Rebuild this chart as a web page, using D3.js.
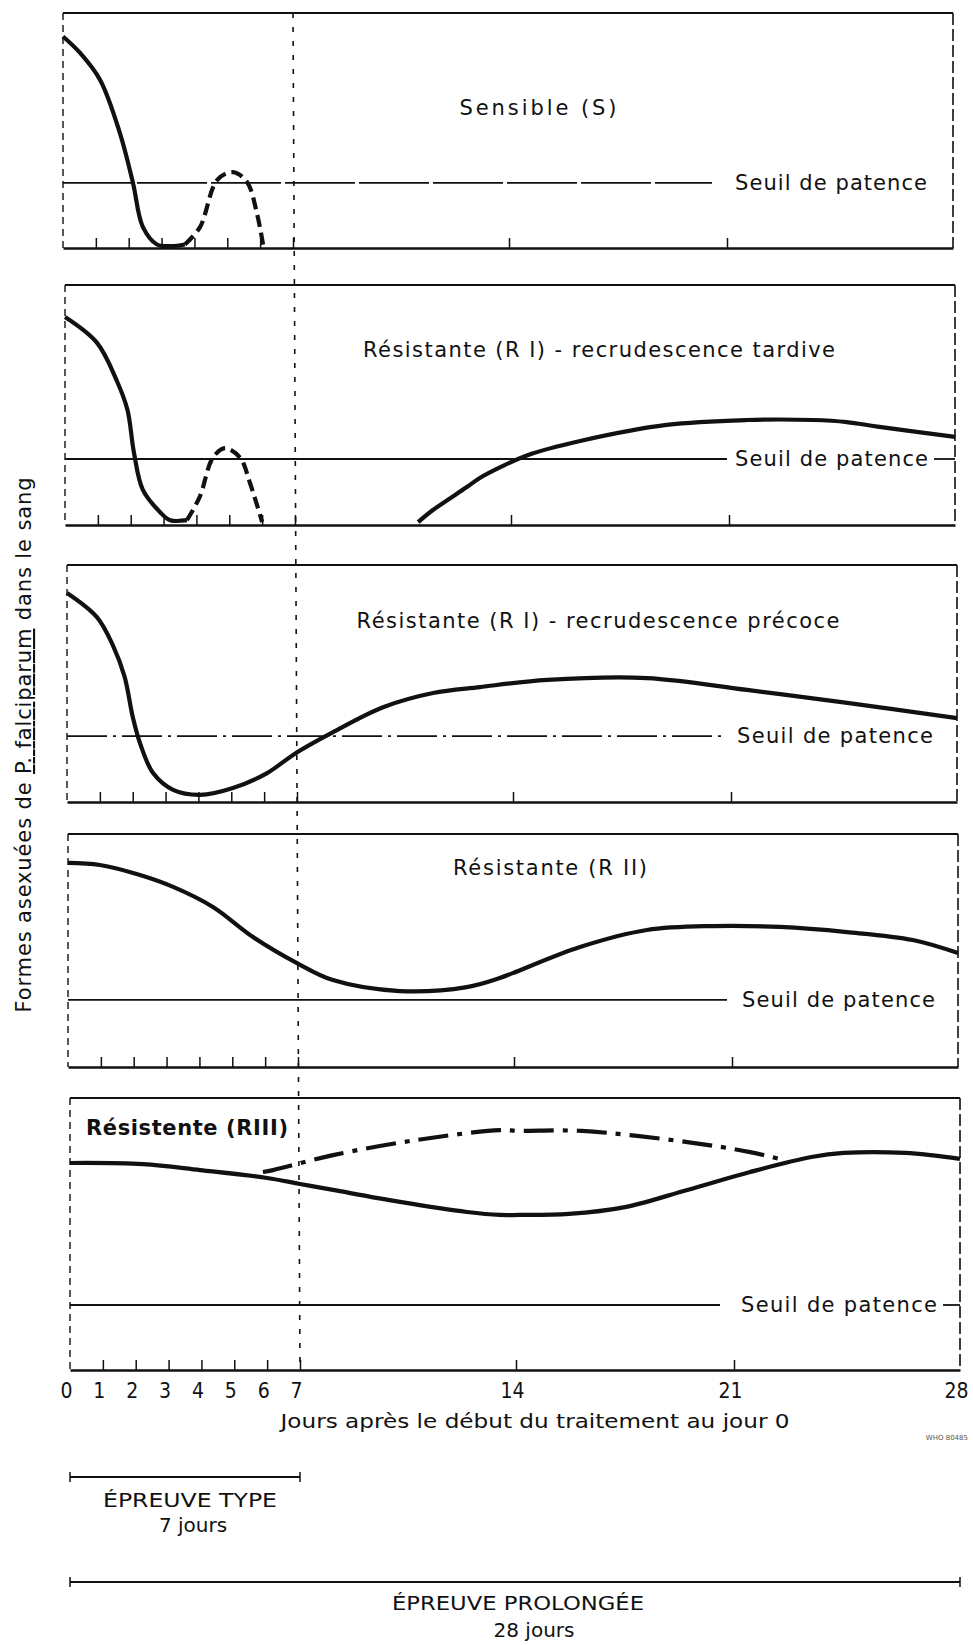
<!DOCTYPE html>
<html>
<head>
<meta charset="utf-8">
<script src="https://cdn.jsdelivr.net/npm/d3@7"></script>
<style>
body { margin: 0; background: #fff; }
text { font-family: "DejaVu Sans", "Liberation Sans", sans-serif; fill: #111; }
</style>
</head>
<body>
<div id="chart"></div>
<script>
// level of parasites, 0 = bottom of a panel, 100 = top (arbitrary units)
var sDays = [0, 0.52, 1.13, 1.73, 2.13, 2.43, 2.86, 3.3, 3.71];
var sVals = [90, 83, 71.5, 49, 27.7, 9, 1.5, 0.8, 1.5];
var sDashDays = [3.71, 4.17, 4.69, 5.17, 5.6, 5.9, 6.09];
var sDashVals = [1.5, 8.9, 28.9, 32.3, 28.1, 14.9, 1.3];

var tardDays = [0, 0.97, 1.58, 1.9, 2.1, 2.37, 2.89, 3.2, 3.71];
var tardVals = [86.7, 76, 60, 48, 30, 14.6, 5.4, 2, 2];
var tardDashDays = [3.71, 4.1, 4.5, 4.87, 5.33, 5.63, 6.0];
var tardDashVals = [2, 11.7, 28, 32, 28, 17.5, 1.2];
var tardLateDays = [10.99, 11.47, 12.57, 12.99, 13.64, 14.51, 16.22, 19.0, 21.55, 23.6, 24.65, 25.6, 28];
var tardLateVals = [1.2, 6.25, 15.8, 19.6, 24, 29, 35, 41.7, 43.75, 43.75, 42.9, 41, 36.7];

var precDays = [0, 0.91, 1.4, 1.75, 2.0, 2.22, 2.62, 3.23, 4.05, 5.05, 6.09, 6.97, 8.17, 9.79, 11.41, 12.93, 15.1, 18.3, 21.5, 24.6, 28];
var precVals = [88.2, 78, 66, 53, 36, 24.9, 12.2, 5.1, 3, 5.9, 12.2, 20.7, 29.5, 40, 46, 48.5, 51.5, 52.3, 47.3, 41.8, 35.4];

var r2Days = [0, 0.97, 2.19, 3.2, 4.41, 5.63, 6.97, 8.13, 10.3, 12.47, 13.54, 13.96, 16.12, 18.27, 20.39, 22.49, 24.56, 26.6, 28];
var r2Vals = [87.6, 86.7, 82.4, 77.3, 68.7, 55.8, 44.6, 37.3, 32.6, 34.3, 38.2, 40.3, 51.5, 58.8, 60.5, 60.1, 57.9, 54.5, 48.9];

var r3Days = [0, 2.22, 3.96, 6.0, 7.0, 8.07, 10.24, 12.41, 13.48, 14.1, 15.7, 17.5, 19.5, 21.5, 23.4, 24.4, 26.3, 28];
var r3Vals = [76.1, 75.7, 73.5, 70.6, 68.4, 66.2, 61.8, 58.1, 57, 57, 57.4, 59.9, 66.2, 72.8, 78.3, 79.8, 79.8, 77.6];
var r3AltDays = [5.87, 6.18, 8.07, 10.8, 13.48, 14.1, 16.1, 19.5, 21.5, 22.6];
var r3AltVals = [72.8, 73.5, 79, 84.6, 88.2, 87.9, 87.9, 83.8, 80.1, 77];

var thresholds = [27.7, 27.5, 27.8, 28.8, 23.9];
var titles = ["Sensible (S)", "Résistante (R I) - recrudescence tardive", "Résistante (R I) - recrudescence précoce", "Résistante (R II)", "Résistente (RIII)"];
var thresholdLabel = "Seuil de patence";
var tickDays = [1, 2, 3, 4, 5, 6, 7, 14, 21];
var dayLabels = [0, 1, 2, 3, 4, 5, 6, 7, 14, 21, 28];

var svg = d3.select("#chart").append("svg")
    .attr("width", 973)
    .attr("height", 1645);

var x = d3.scaleLinear().domain([0, 7, 14, 21, 28]).range([63, 293, 509, 727, 953]);

var layout = [
  {top: 13, bottom: 248, dx: 0, tx: 538, ty: 115, tlen: 157, anchor: "middle", bold: false, thrEnd: 712, thrDash: "70,4", lx: 735, llen: 192, tail: false},
  {top: 285, bottom: 525, dx: 2, tx: 599, ty: 357, tlen: 472, anchor: "middle", bold: false, thrEnd: 727, thrDash: null, lx: 735, llen: 193, tail: true},
  {top: 565, bottom: 802, dx: 4, tx: 598, ty: 628, tlen: 483, anchor: "middle", bold: false, thrEnd: 727, thrDash: "40,6,3,6", lx: 737, llen: 196, tail: false},
  {top: 834, bottom: 1067, dx: 5, tx: 550, ty: 875, tlen: 194, anchor: "middle", bold: false, thrEnd: 727, thrDash: null, lx: 742, llen: 193, tail: false},
  {top: 1098, bottom: 1370, dx: 7, tx: 86, ty: 1135, tlen: 202, anchor: "start", bold: true, thrEnd: 720, thrDash: null, lx: 741, llen: 196, tail: true}
];

var curves = [
  [{d: sDays, v: sVals, dash: null}, {d: sDashDays, v: sDashVals, dash: "12,6"}],
  [{d: tardDays, v: tardVals, dash: null}, {d: tardDashDays, v: tardDashVals, dash: "12,6"}, {d: tardLateDays, v: tardLateVals, dash: null}],
  [{d: precDays, v: precVals, dash: null}],
  [{d: r2Days, v: r2Vals, dash: null}],
  [{d: r3Days, v: r3Vals, dash: null}, {d: r3AltDays, v: r3AltVals, dash: "30,9,5,9"}]
];

layout.forEach(function(p, i) {
  var y = d3.scaleLinear().domain([0, 100]).range([p.bottom, p.top]);
  var g = svg.append("g").attr("transform", `translate(${p.dx},0)`);

  // frame
  g.append("line").attr("x1", x(0)).attr("x2", x(28)).attr("y1", p.top).attr("y2", p.top)
    .attr("stroke", "#111").attr("stroke-width", 2.2);
  g.append("line").attr("x1", x(0)).attr("x2", x(0)).attr("y1", p.top).attr("y2", p.bottom)
    .attr("stroke", "#111").attr("stroke-width", 1.4).attr("stroke-dasharray", "7,5");
  g.append("line").attr("x1", x(28)).attr("x2", x(28)).attr("y1", p.top).attr("y2", p.bottom)
    .attr("stroke", "#111").attr("stroke-width", 1.6).attr("stroke-dasharray", "12,4");

  var ax = g.append("g").attr("transform", `translate(0,${p.bottom})`)
    .call(d3.axisTop(x).tickValues(tickDays).tickSize(10).tickSizeOuter(0).tickFormat(""));
  ax.select(".domain").attr("stroke", "#111").attr("stroke-width", 2.4);
  ax.selectAll(".tick line").attr("stroke", "#111").attr("stroke-width", 1.5);

  // threshold
  g.append("line").attr("x1", x(0)).attr("x2", p.thrEnd - p.dx)
    .attr("y1", y(thresholds[i])).attr("y2", y(thresholds[i]))
    .attr("stroke", "#111").attr("stroke-width", 1.8)
    .attr("stroke-dasharray", p.thrDash);
  if (p.tail) {
    g.append("line").attr("x1", p.lx + p.llen + 6 - p.dx).attr("x2", x(28))
      .attr("y1", y(thresholds[i])).attr("y2", y(thresholds[i]))
      .attr("stroke", "#111").attr("stroke-width", 1.8);
  }

  var line = d3.line()
    .x(function(d) { return x(d[0]); })
    .y(function(d) { return y(d[1]); })
    .curve(d3.curveCatmullRom.alpha(0.5));

  curves[i].forEach(function(c) {
    g.append("path")
      .datum(c.d.map(function(d, k) { return [d, c.v[k]]; }))
      .attr("d", line)
      .attr("fill", "none")
      .attr("stroke", "#111")
      .attr("stroke-width", 4.2)
      .attr("stroke-linecap", "butt")
      .attr("stroke-dasharray", c.dash);
  });

  svg.append("text")
    .attr("x", p.tx).attr("y", p.ty)
    .attr("text-anchor", p.anchor)
    .attr("font-size", 21)
    .attr("font-weight", p.bold ? "bold" : "normal")
    .attr("textLength", p.tlen).attr("lengthAdjust", "spacing")
    .text(titles[i]);

  svg.append("text")
    .attr("x", p.lx).attr("y", y(thresholds[i]) + 7)
    .attr("font-size", 21)
    .attr("textLength", p.llen).attr("lengthAdjust", "spacing")
    .text(thresholdLabel);
});

// day 7 marker across all panels
svg.append("line")
  .attr("x1", x(7)).attr("x2", x(7) + 7)
  .attr("y1", 13).attr("y2", 1370)
  .attr("stroke", "#111").attr("stroke-width", 1.6)
  .attr("stroke-dasharray", "5,9");

// bottom day labels
var bx = svg.append("g").attr("transform", "translate(3,1370)")
  .call(d3.axisBottom(x).tickValues(dayLabels).tickSize(0).tickPadding(13));
bx.select(".domain").remove();
bx.selectAll("text").attr("font-size", 21).attr("font-family", "DejaVu Sans").style("font-stretch", "condensed").attr("fill", "#111");

svg.append("text").attr("x", 535).attr("y", 1428).attr("text-anchor", "middle")
  .attr("font-size", 19).attr("textLength", 509).attr("lengthAdjust", "spacingAndGlyphs")
  .text("Jours après le début du traitement au jour 0");

svg.append("text").attr("x", 968).attr("y", 1440).attr("text-anchor", "end")
  .attr("font-size", 7).style("fill", "#555")
  .text("WHO 80485");

// y label
var yl = svg.append("text")
  .attr("transform", "translate(31,745) rotate(-90)")
  .attr("text-anchor", "middle")
  .attr("font-size", 21)
  .attr("textLength", 535).attr("lengthAdjust", "spacing");
yl.append("tspan").text("Formes asexuées de ");
yl.append("tspan").style("text-decoration", "underline").text("P. falciparum");
yl.append("tspan").text(" dans le sang");

// test durations
function bracket(d0, d1, yy) {
  var x0 = x(d0) + 7, x1 = x(d1) + 7;
  svg.append("line").attr("x1", x0).attr("x2", x1).attr("y1", yy).attr("y2", yy)
    .attr("stroke", "#111").attr("stroke-width", 1.8);
  [x0, x1].forEach(function(xx) {
    svg.append("line").attr("x1", xx).attr("x2", xx).attr("y1", yy - 5).attr("y2", yy + 5)
      .attr("stroke", "#111").attr("stroke-width", 1.5);
  });
}
bracket(0, 7, 1477);
bracket(0, 28, 1582);

svg.append("text").attr("x", 190).attr("y", 1507).attr("text-anchor", "middle")
  .attr("font-size", 19).attr("textLength", 174).attr("lengthAdjust", "spacingAndGlyphs").text("ÉPREUVE TYPE");
svg.append("text").attr("x", 193).attr("y", 1532).attr("text-anchor", "middle")
  .attr("font-size", 20).text("7 jours");
svg.append("text").attr("x", 518).attr("y", 1610).attr("text-anchor", "middle")
  .attr("font-size", 19).attr("textLength", 252).attr("lengthAdjust", "spacingAndGlyphs").text("ÉPREUVE PROLONGÉE");
svg.append("text").attr("x", 534).attr("y", 1637).attr("text-anchor", "middle")
  .attr("font-size", 20).text("28 jours");
</script>
</body>
</html>
